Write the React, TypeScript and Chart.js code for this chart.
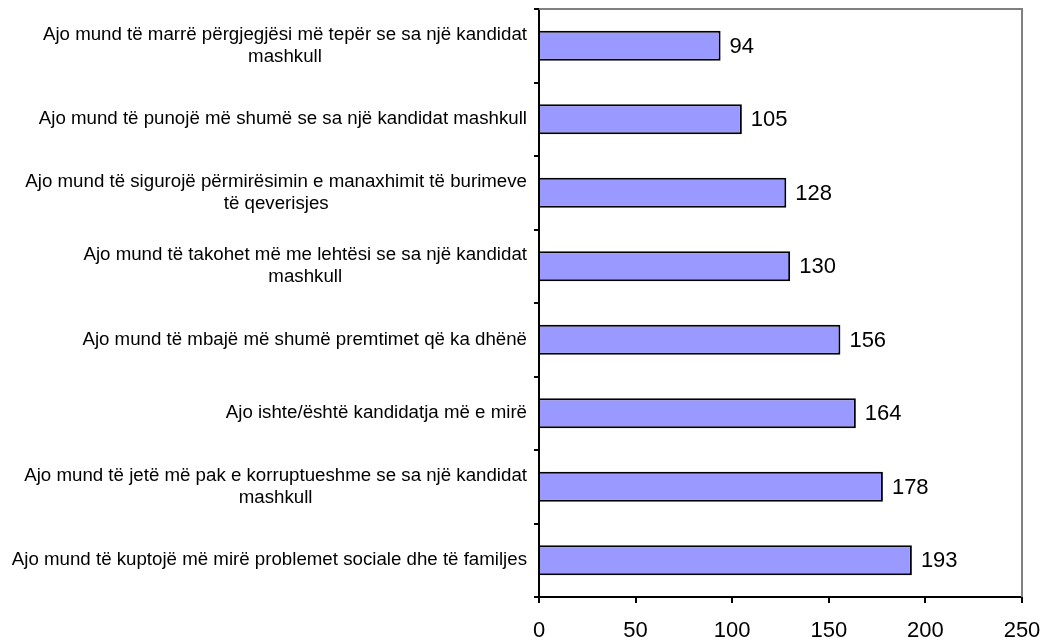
import React, { useEffect, useRef } from "react";
import { Chart, registerables } from "chart.js";

Chart.register(...registerables);

const categories: string[][] = [
  ["Ajo mund të marrë përgjegjësi më tepër se sa një kandidat", "mashkull"],
  ["Ajo mund të punojë më shumë se sa një kandidat mashkull"],
  ["Ajo mund të sigurojë përmirësimin e manaxhimit të burimeve", "të qeverisjes"],
  ["Ajo mund të takohet më me lehtësi se sa një kandidat", "mashkull"],
  ["Ajo mund të mbajë më shumë premtimet që ka dhënë "],
  ["Ajo ishte/është kandidatja më e mirë"],
  ["Ajo mund të jetë më pak e korruptueshme se sa një kandidat", "mashkull"],
  ["Ajo mund të kuptojë më mirë problemet sociale dhe të familjes"],
];
const values: number[] = [94, 105, 128, 130, 156, 164, 178, 193];
const xTicks: number[] = [0, 50, 100, 150, 200, 250];

const FAMILY = '"Liberation Sans", Arial, sans-serif';
const LABEL_FONT = `18.7px ${FAMILY}`;
const VALUE_FONT = `22px ${FAMILY}`;

const customPlugin = {
  id: "custom",
  afterDraw(chart: any) {
    const ctx = chart.ctx;
    const area = chart.chartArea;
    const yScale = chart.scales.y;
    ctx.save();
    // gray top/right frame
    ctx.strokeStyle = "#808080";
    ctx.lineWidth = 2;
    ctx.beginPath();
    ctx.moveTo(area.left, area.top);
    ctx.lineTo(area.right, area.top);
    ctx.lineTo(area.right, area.bottom);
    ctx.stroke();
    // category labels
    ctx.font = LABEL_FONT;
    ctx.fillStyle = "#000";
    ctx.textBaseline = "middle";
    ctx.textAlign = "center";
    const rightEdge = area.left - 12;
    const lineH = 22;
    categories.forEach((lines, i) => {
      const yc = yScale.getPixelForValue(i);
      const maxW = Math.max(...lines.map((l) => ctx.measureText(l.trim()).width));
      const cx = rightEdge - maxW / 2;
      const y0 = yc - ((lines.length - 1) * lineH) / 2;
      lines.forEach((l, j) => ctx.fillText(l.trim(), cx, y0 + j * lineH));
    });
    // value labels
    ctx.font = VALUE_FONT;
    ctx.textAlign = "left";
    const meta = chart.getDatasetMeta(0);
    meta.data.forEach((bar: any, i: number) => {
      ctx.fillText(String(values[i]), bar.x + 9, bar.y + 1);
    });
    ctx.restore();
  },
};

export default function App() {
  const ref = useRef<HTMLCanvasElement>(null);
  useEffect(() => {
    if (!ref.current) return;
    const chart = new Chart(ref.current, {
      type: "bar",
      data: {
        labels: categories.map((c) => c.join(" ")),
        datasets: [
          {
            data: values,
            backgroundColor: "#9999FF",
            borderColor: "#000000",
            borderWidth: 2,
            barPercentage: 0.41,
            categoryPercentage: 1,
          },
        ],
      },
      options: {
        indexAxis: "y",
        animation: false,
        responsive: false,
        maintainAspectRatio: false,
        layout: { padding: { top: 9, right: 26, left: 0, bottom: 0 } },
        plugins: { legend: { display: false }, tooltip: { enabled: false } },
        scales: {
          x: {
            min: 0,
            max: 250,
            afterBuildTicks: (scale: any) => {
              scale.ticks = xTicks.map((v) => ({ value: v }));
            },
            afterFit: (scale: any) => {
              scale.height = 46;
              scale.paddingLeft = 0;
              scale.paddingRight = 0;
            },
            border: { color: "#000", width: 2 },
            grid: {
              drawOnChartArea: false,
              drawTicks: true,
              tickLength: 6,
              color: "#000",
              lineWidth: 2,
            },
            ticks: {
              color: "#000",
              padding: 15,
              maxRotation: 0,
              font: { family: FAMILY, size: 22 },
            },
          },
          y: {
            afterFit: (scale: any) => {
              scale.width = 539;
              scale.paddingTop = 0;
              scale.paddingBottom = 0;
            },
            border: { color: "#000", width: 2 },
            grid: {
              drawOnChartArea: false,
              drawTicks: true,
              tickLength: 5,
              color: "#000",
              lineWidth: 2,
              offset: true,
            },
            ticks: { display: false },
          },
        },
      },
      plugins: [customPlugin],
    });
    return () => chart.destroy();
  }, []);
  return (
    <div style={{ position: "fixed", left: 0, top: 0, width: 1048, height: 643, background: "#fff" }}>
      <canvas ref={ref} width={1048} height={643} style={{ width: 1048, height: 643 }} />
    </div>
  );
}
